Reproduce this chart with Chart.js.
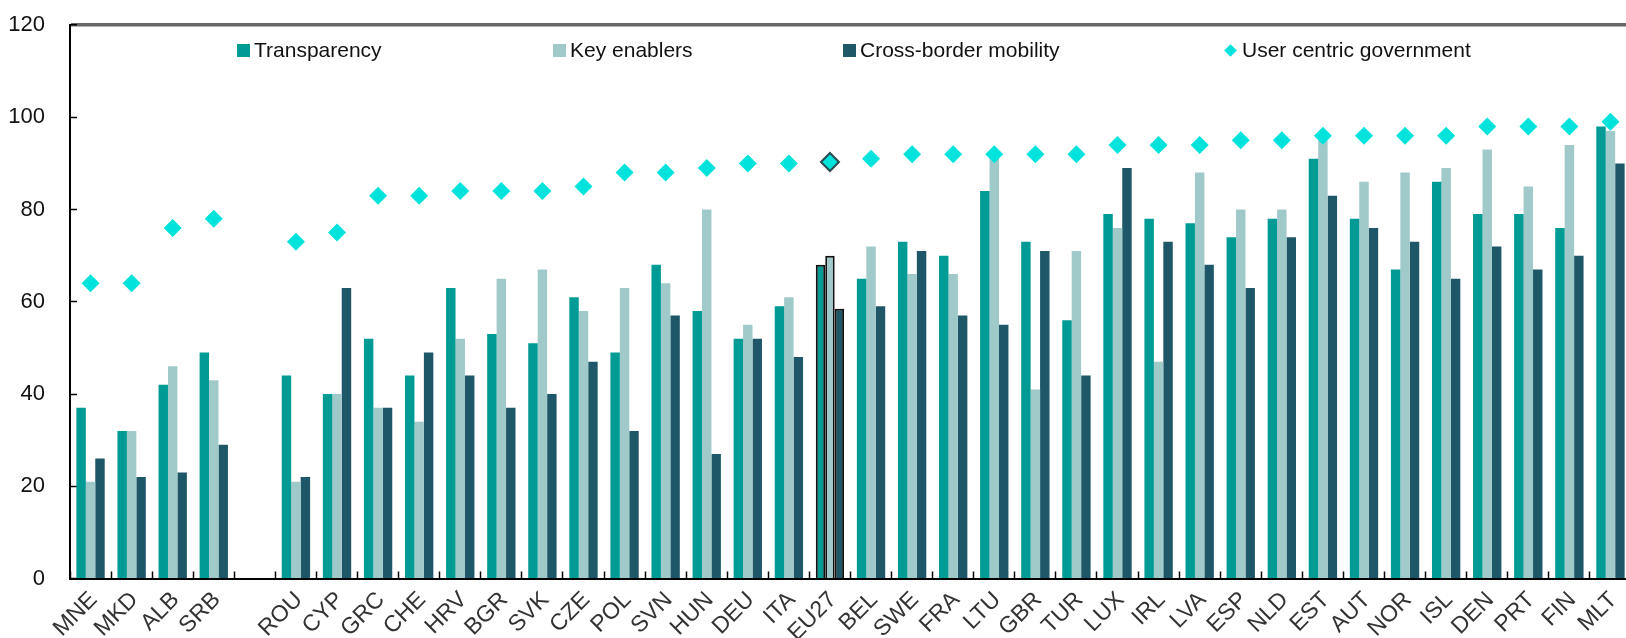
<!DOCTYPE html>
<html>
<head>
<meta charset="utf-8">
<script src="https://cdn.jsdelivr.net/npm/chart.js@4.4.0/dist/chart.umd.min.js"></script>
<style>
  html, body { margin: 0; padding: 0; background: #fff; overflow: hidden; }
  #wrap { position: relative; width: 1626px; height: 638px; overflow: hidden; }
  #chart { position: absolute; left: 0; top: 0; }
  .legend-item {
    position: absolute; top: 38px; display: flex; align-items: center;
    font-family: 'Liberation Sans', Arial, sans-serif;
    font-size: 21px; line-height: 24px; color: #111; white-space: nowrap;
  }
  .swatch { width: 13px; height: 13px; margin-right: 4px; }
  .swatch.diamond { width: 9px; height: 9px; transform: rotate(45deg); margin: 0 7px 0 2px; }
</style>
</head>
<body>
<div id="wrap">
  <canvas id="chart" width="1640" height="638"></canvas>
  <div id="legend"></div>
</div>
<script>
// Categories (blank slot separates the non-members from the rest)
const countries = ['MNE', 'MKD', 'ALB', 'SRB', '', 'ROU', 'CYP', 'GRC', 'CHE', 'HRV',
  'BGR', 'SVK', 'CZE', 'POL', 'SVN', 'HUN', 'DEU', 'ITA', 'EU27', 'BEL',
  'SWE', 'FRA', 'LTU', 'GBR', 'TUR', 'LUX', 'IRL', 'LVA', 'ESP', 'NLD',
  'EST', 'AUT', 'NOR', 'ISL', 'DEN', 'PRT', 'FIN', 'MLT'];

// Series values
const transparency = [37, 32, 42, 49, null, 44, 40, 52, 44, 63,
  53, 51, 61, 49, 68, 58, 52, 59, 68, 65,
  73, 70, 84, 73, 56, 79, 78, 77, 74, 78,
  91, 78, 67, 86, 79, 79, 76, 98];
const keyEnablers = [21, 32, 46, 43, null, 21, 40, 37, 34, 52,
  65, 67, 58, 63, 64, 80, 55, 61, 70, 72,
  66, 66, 92, 41, 71, 76, 47, 88, 80, 80,
  95, 86, 88, 89, 93, 85, 94, 97];
const crossBorder = [26, 22, 23, 29, null, 22, 63, 37, 49, 44,
  37, 40, 47, 32, 57, 27, 52, 48, 58.5, 59,
  71, 57, 55, 71, 44, 89, 73, 68, 63, 74,
  83, 76, 73, 65, 72, 67, 70, 90];
const userCentric = [64, 64, 76, 78, null, 73, 75, 83, 83, 84,
  84, 84, 85, 88, 88, 89, 90, 90, 90.3, 91,
  92, 92, 92, 92, 92, 94, 94, 94, 95, 95,
  96, 96, 96, 96, 98, 98, 98, 99];

// Y axis
const Y_MIN = 0;
const Y_MAX = 120;
const Y_STEP = 20;

const HIGHLIGHT = 'EU27';
const COL_TRANSP = '#009b95';
const COL_KEY = '#a0c9c9';
const COL_CROSS = '#1e5767';
const COL_USER = '#00e3dd';
const FONT = "'Liberation Sans', Arial, sans-serif";

const isHl = countries.map(c => c === HIGHLIGHT);
const barBorderW = isHl.map(h => h ? 2 : 0);

function barSet(label, data, color) {
    return {
        label: label,
        data: data,
        backgroundColor: color,
        borderColor: '#111',
        borderWidth: barBorderW,
        categoryPercentage: 0.69,
        barPercentage: 1.0,
        order: 1
    };
}

const ctx = document.getElementById('chart').getContext('2d');
const chart = new Chart(ctx, {
    type: 'bar',
    data: {
        labels: countries,
        datasets: [
            barSet('Transparency', transparency, COL_TRANSP),
            barSet('Key enablers', keyEnablers, COL_KEY),
            barSet('Cross-border mobility', crossBorder, COL_CROSS),
            {
                type: 'line',
                label: 'User centric government',
                data: userCentric,
                showLine: false,
                pointStyle: 'rectRot',
                pointRadius: 9,
                pointHoverRadius: 9,
                backgroundColor: COL_USER,
                pointBackgroundColor: COL_USER,
                pointBorderColor: isHl.map(h => h ? '#2b4b50' : COL_USER),
                pointBorderWidth: isHl.map(h => h ? 2 : 0),
                order: 0
            }
        ]
    },
    options: {
        responsive: false,
        animation: false,
        layout: { padding: { top: 25, right: 8, bottom: 0, left: 0 } },
        plugins: {
            legend: { display: false },
            tooltip: { enabled: false }
        },
        scales: {
            x: {
                grid: {
                    display: true,
                    drawOnChartArea: false,
                    drawTicks: true,
                    tickLength: -7,
                    tickColor: '#000',
                    tickWidth: 1.5
                },
                border: { display: true, color: '#000', width: 2 },
                ticks: {
                    autoSkip: false,
                    minRotation: 45,
                    maxRotation: 45,
                    padding: 15,
                    labelOffset: 3,
                    color: '#333',
                    font: { family: FONT, size: 23 }
                },
                afterFit: (scale) => {
                    scale.height = 59.5;
                    scale.paddingLeft = 0;
                    scale.paddingRight = 0;
                }
            },
            y: {
                min: Y_MIN,
                max: Y_MAX,
                grid: {
                    display: true,
                    drawOnChartArea: true,
                    drawTicks: true,
                    tickLength: -7,
                    tickColor: '#000',
                    tickWidth: 1.5,
                    color: (c) => (c.tick && c.tick.value === Y_MAX) ? '#666' : 'rgba(0,0,0,0)',
                    lineWidth: (c) => (c.tick && c.tick.value === Y_MAX) ? 3.5 : 1
                },
                border: { display: true, color: '#000', width: 2 },
                ticks: {
                    stepSize: Y_STEP,
                    padding: 32,
                    color: '#111',
                    font: { family: FONT, size: 22 }
                },
                afterFit: (scale) => {
                    scale.width = 70;
                    scale.paddingTop = 0;
                    scale.paddingBottom = 0;
                }
            }
        }
    }
});

// HTML legend laid inside the plot frame, built from the datasets
const legendLeft = [237, 553, 843, 1224];
const legendEl = document.getElementById('legend');
chart.data.datasets.forEach((ds, i) => {
    const item = document.createElement('div');
    item.className = 'legend-item';
    item.style.left = legendLeft[i] + 'px';
    const sw = document.createElement('span');
    sw.className = ds.type === 'line' ? 'swatch diamond' : 'swatch';
    sw.style.background = ds.type === 'line' ? ds.pointBackgroundColor : ds.backgroundColor;
    item.appendChild(sw);
    const txt = document.createElement('span');
    txt.textContent = ds.label;
    item.appendChild(txt);
    legendEl.appendChild(item);
});
</script>
</body>
</html>
